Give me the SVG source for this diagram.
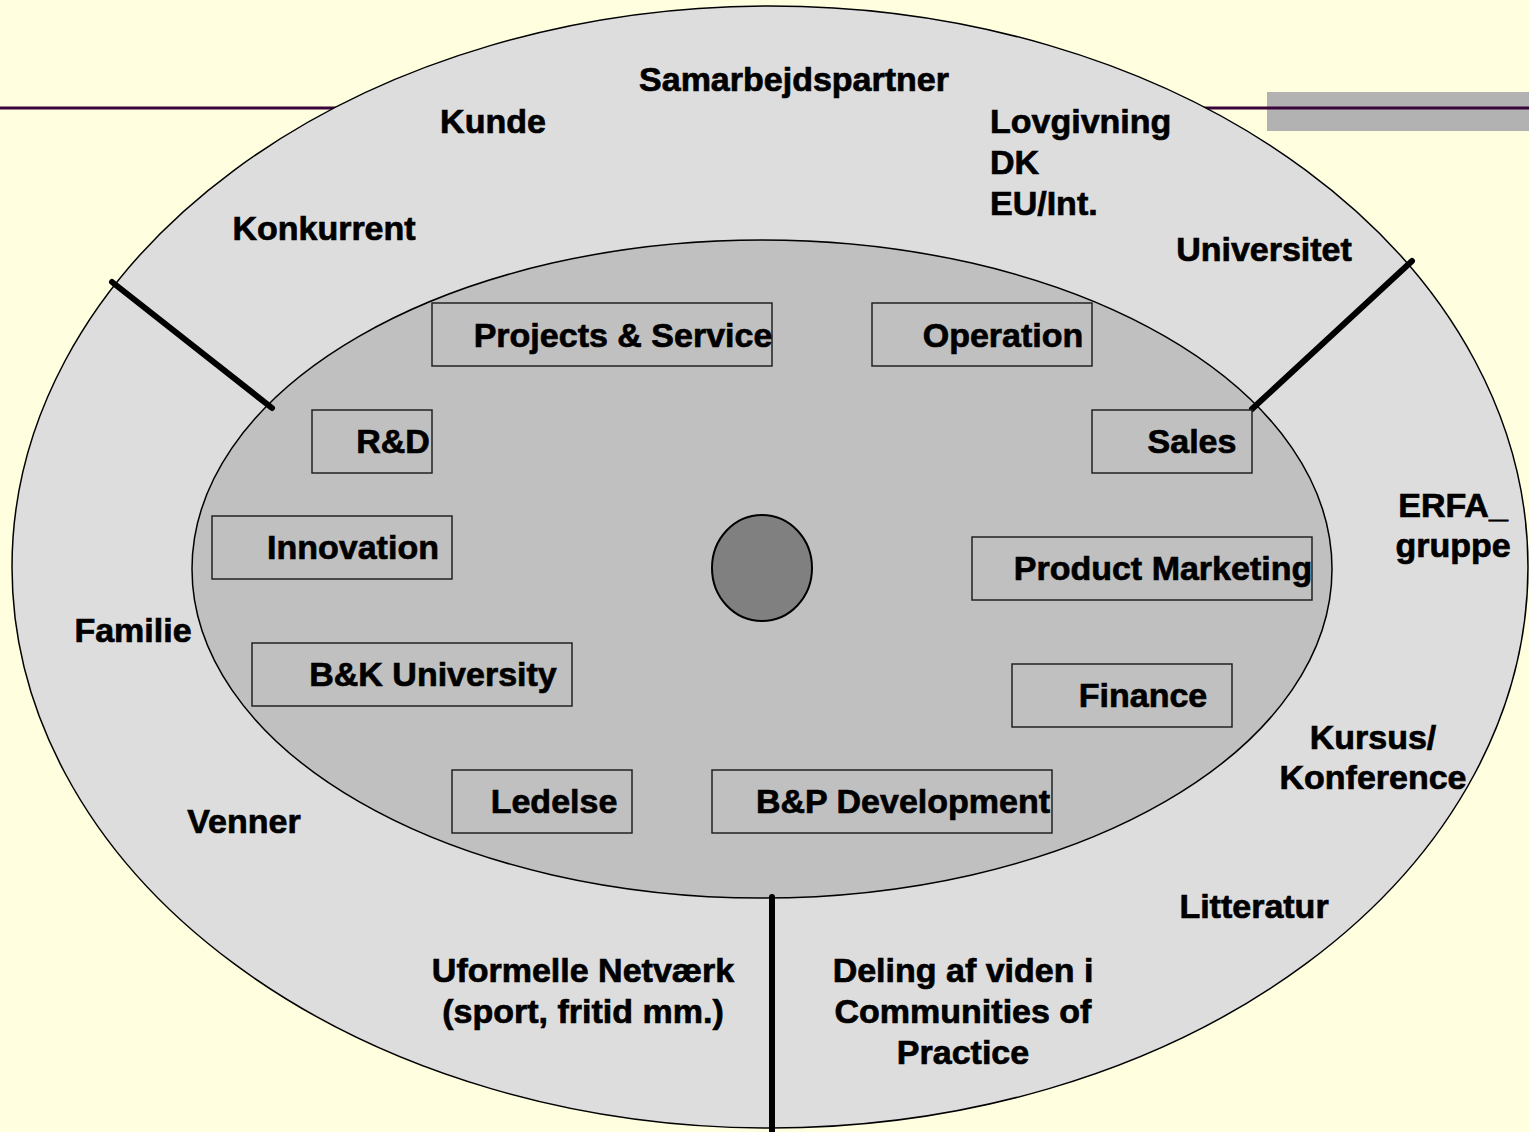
<svg xmlns="http://www.w3.org/2000/svg" width="1529" height="1132" viewBox="0 0 1529 1132">
<defs>
<style>
text{font-family:"Liberation Sans",Arial,sans-serif;font-weight:bold;font-size:34px;fill:#000;stroke:#000;stroke-width:0.7px;text-anchor:middle}
.l{text-anchor:start}
.box rect{fill:#C0C0C0;stroke:#222;stroke-width:1.5}
.div{stroke:#000;stroke-width:6;stroke-linecap:round;fill:none}
</style>
</defs>
<rect x="0" y="0" width="1529" height="1132" fill="#FFFFE0"/>
<g id="header">
<rect x="1267" y="92" width="262" height="39" fill="#B2B2B2"/>
<line x1="0" y1="108" x2="1529" y2="108" stroke="#3A053A" stroke-width="3"/>
</g>
<g id="outer-ring">
<ellipse cx="770" cy="567" rx="758" ry="561" fill="#DDDDDD" stroke="#000" stroke-width="1.5"/>
</g>
<g id="inner-ring">
<ellipse cx="762" cy="569" rx="570" ry="329" fill="#C0C0C0" stroke="#000" stroke-width="1.5"/>
</g>
<g id="core">
<ellipse cx="762" cy="568" rx="50" ry="53" fill="#808080" stroke="#000" stroke-width="2"/>
</g>
<g id="connectors">
<line class="div" x1="112" y1="282" x2="272" y2="408"/>
<line class="div" x1="1412" y1="261" x2="1252" y2="409"/>
<line class="div" x1="772" y1="897" x2="772" y2="1134" stroke-linecap="butt"/>
</g>
<g id="outer-labels">
<text x="794" y="91">Samarbejdspartner</text>
<text x="493" y="133">Kunde</text>
<text class="l" x="990" y="133">Lovgivning</text>
<text class="l" x="990" y="174">DK</text>
<text class="l" x="990" y="215">EU/Int.</text>
<text x="324" y="240">Konkurrent</text>
<text x="1264" y="261">Universitet</text>
<text x="1453" y="517">ERFA_</text>
<text x="1453" y="557">gruppe</text>
<text x="133" y="642">Familie</text>
<text x="244" y="833">Venner</text>
<text x="1373" y="749">Kursus/</text>
<text x="1373" y="789">Konference</text>
<text x="1254" y="918">Litteratur</text>
<text x="583" y="982">Uformelle Netværk</text>
<text x="583" y="1023">(sport, fritid mm.)</text>
<text x="963" y="982">Deling af viden i</text>
<text x="963" y="1023">Communities of</text>
<text x="963" y="1064">Practice</text>
</g>
<g id="node-projects" class="box"><rect x="432" y="303" width="340" height="63"/><text x="623" y="347">Projects &amp; Service</text></g>
<g id="node-operation" class="box"><rect x="872" y="303" width="220" height="63"/><text x="1003" y="347">Operation</text></g>
<g id="node-rd" class="box"><rect x="312" y="410" width="120" height="63"/><text x="393" y="453">R&amp;D</text></g>
<g id="node-sales" class="box"><rect x="1092" y="410" width="160" height="63"/><text x="1192" y="453">Sales</text></g>
<g id="node-innovation" class="box"><rect x="212" y="516" width="240" height="63"/><text x="353" y="559">Innovation</text></g>
<g id="node-product-marketing" class="box"><rect x="972" y="537" width="340" height="63"/><text x="1163" y="580">Product Marketing</text></g>
<g id="node-bk-university" class="box"><rect x="252" y="643" width="320" height="63"/><text x="433" y="686">B&amp;K University</text></g>
<g id="node-finance" class="box"><rect x="1012" y="664" width="220" height="63"/><text x="1143" y="707">Finance</text></g>
<g id="node-ledelse" class="box"><rect x="452" y="770" width="180" height="63"/><text x="554" y="813">Ledelse</text></g>
<g id="node-bp-development" class="box"><rect x="712" y="770" width="340" height="63"/><text x="903" y="813">B&amp;P Development</text></g>
</svg>
